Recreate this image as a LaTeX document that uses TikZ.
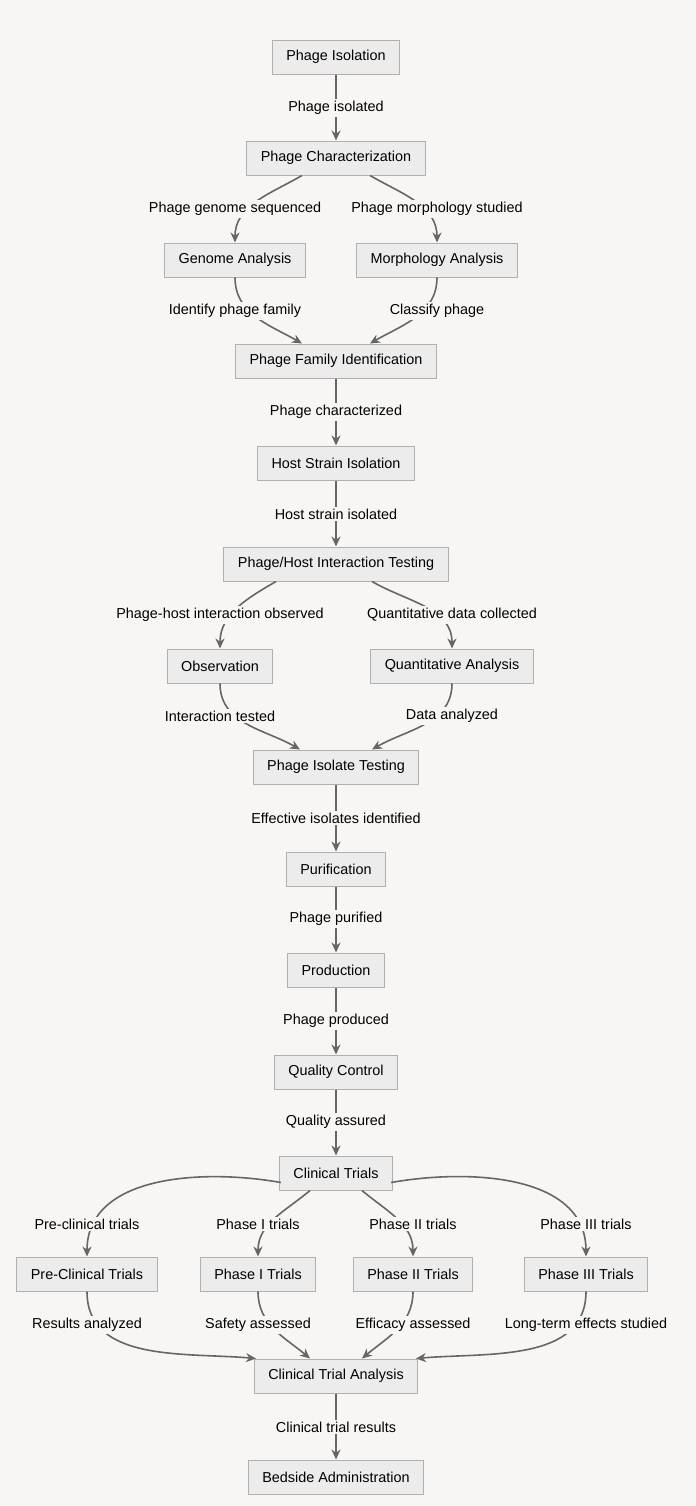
\documentclass[tikz,border=0pt]{standalone}
\usepackage{fontspec}
\setmainfont{Liberation Sans}
\usetikzlibrary{arrows.meta,calc}
\definecolor{bg}{HTML}{F7F6F4}
\definecolor{nf}{HTML}{ECECEC}
\definecolor{nb}{HTML}{B0B0B0}
\definecolor{ln}{HTML}{666666}
\begin{document}
\begin{tikzpicture}[x=0.5pt,y=-0.5pt,
 box/.style={draw=nb,fill=nf,line width=0.5pt,minimum height=17pt,inner xsep=7pt,font=\fontsize{7.2}{8}\selectfont},
 lab/.style={fill=bg,inner sep=1pt,font=\fontsize{7.2}{8}\selectfont},
 e/.style={draw=ln,line width=0.8pt,-{Stealth[length=5pt,width=4.5pt]}}]
\fill[bg] (0,0) rectangle (696,1506);
\useasboundingbox (0,0) rectangle (696,1506);
\node[box] (a) at (336,57) {Phage Isolation};
\node[box] (b) at (336,158) {Phage Characterization};
\node[box] (c) at (235,260) {Genome Analysis};
\node[box] (d) at (437,260) {Morphology Analysis};
\node[box] (f) at (336,361) {Phage Family Identification};
\node[box] (g) at (336,463) {Host Strain Isolation};
\node[box] (h) at (336,564) {Phage/Host Interaction Testing};
\node[box] (i) at (220,666) {Observation};
\node[box] (j) at (452,666) {Quantitative Analysis};
\node[box] (k) at (336,767) {Phage Isolate Testing};
\node[box] (l) at (336,869) {Purification};
\node[box] (m) at (336,970) {Production};
\node[box] (n) at (336,1072) {Quality Control};
\node[box] (o) at (336,1173) {Clinical Trials};
\node[box] (p1) at (87,1274) {Pre-Clinical Trials};
\node[box] (p2) at (258,1274) {Phase I Trials};
\node[box] (p3) at (413,1274) {Phase II Trials};
\node[box] (p4) at (586,1274) {Phase III Trials};
\node[box] (q) at (336,1376) {Clinical Trial Analysis};
\node[box] (r) at (336,1477) {Bedside Administration};
% straight edges
\foreach \s/\t in {a/b,f/g,g/h,k/l,l/m,m/n,n/o,q/r}{\draw[e] (\s.south) -- (\t.north);}
% branches
\draw[e] ($(b.south)+(-34,0)$) to[out=-150,in=90] (c.north);
\draw[e] ($(b.south)+(34,0)$) to[out=-30,in=90] (d.north);
\draw[e] (c.south) to[out=-90,in=150] ($(f.north)+(-34,0)$);
\draw[e] (d.south) to[out=-90,in=30] ($(f.north)+(34,0)$);
\draw[e] ($(h.south)+(-60,0)$) to[out=-150,in=90] (i.north);
\draw[e] ($(h.south)+(36,0)$) to[out=-30,in=90] (j.north);
\draw[e] (i.south) to[out=-90,in=150] ($(k.north)+(-36,0)$);
\draw[e] (j.south) to[out=-90,in=30] ($(k.north)+(36,0)$);
\draw[e] ($(o.south)+(-55,-8)$) to[out=170,in=90] (p1.north);
\draw[e] ($(o.south)+(-26,0)$) to[out=-140,in=90] (p2.north);
\draw[e] ($(o.south)+(26,0)$) to[out=-40,in=90] (p3.north);
\draw[e] ($(o.south)+(55,-8)$) to[out=10,in=90] (p4.north);
\draw[e] (p1.south) to[out=-90,in=175] ($(q.north)+(-80,0)$);
\draw[e] (p2.south) to[out=-90,in=140] ($(q.north)+(-26,0)$);
\draw[e] (p3.south) to[out=-90,in=40] ($(q.north)+(26,0)$);
\draw[e] (p4.south) to[out=-90,in=5] ($(q.north)+(80,0)$);
% labels
\node[lab] (l1) at (336,108) {Phage isolated};
\node[lab] (l2) at (235,209) {Phage genome sequenced};
\node[lab] (l3) at (437,209) {Phage morphology studied};
\node[lab] (l4) at (235,311) {Identify phage family};
\node[lab] (l5) at (437,311) {Classify phage};
\node[lab] (l6) at (336,412) {Phage characterized};
\node[lab] (l7) at (336,514) {Host strain isolated};
\node[lab] (l8) at (220,615) {Phage-host interaction observed};
\node[lab] (l9) at (452,615) {Quantitative data collected};
\node[lab] (l10) at (220,716) {Interaction tested};
\node[lab] (l11) at (452,716) {Data analyzed};
\node[lab] (l12) at (336,818) {Effective isolates identified};
\node[lab] (l13) at (336,919) {Phage purified};
\node[lab] (l14) at (336,1021) {Phage produced};
\node[lab] (l15) at (336,1122) {Quality assured};
\node[lab] (l16) at (87,1224) {Pre-clinical trials};
\node[lab] (l17) at (258,1224) {Phase I trials};
\node[lab] (l18) at (413,1224) {Phase II trials};
\node[lab] (l19) at (586,1224) {Phase III trials};
\node[lab] (l20) at (87,1325) {Results analyzed};
\node[lab] (l21) at (258,1325) {Safety assessed};
\node[lab] (l22) at (413,1325) {Efficacy assessed};
\node[lab] (l23) at (586,1325) {Long-term effects studied};
\node[lab] (l24) at (336,1427) {Clinical trial results};
\end{tikzpicture}
\end{document}
